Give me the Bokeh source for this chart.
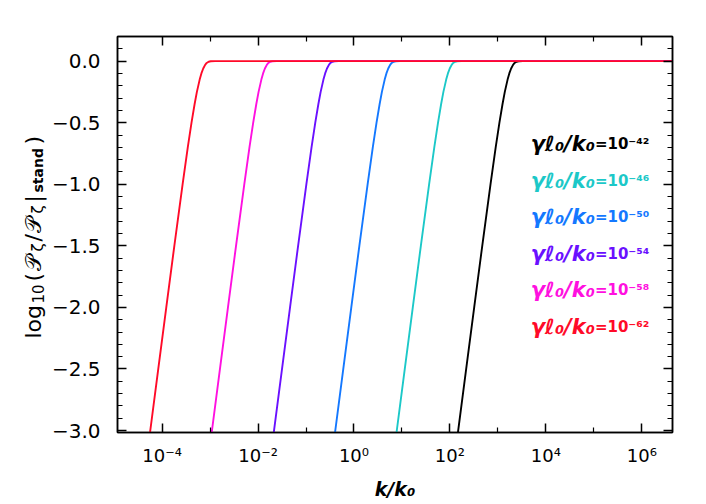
import math
from bokeh.plotting import figure
from bokeh.layouts import row
from bokeh.models import (Range1d, FixedTicker, CustomJSTickFormatter, LinearAxis,
                          LogAxis, Label)
from bokeh.embed import file_html
from bokeh.resources import INLINE

# ---------------- data ----------------
# log10(P/P_stand) levels along each curve
y_levels = [-3.1, -2.5, -2.0, -1.5, -1.0, -0.7, -0.5, -0.35, -0.25, -0.15,
            -0.1, -0.06, -0.03, -0.015, -0.005, -0.001, 0.0, 0.0]
# log10(k/k0) at which each curve reaches those levels
logk_black = [2.139, 2.339, 2.506, 2.674, 2.846, 2.954, 3.032, 3.096, 3.144, 3.202,
              3.238, 3.276, 3.316, 3.348, 3.389, 3.433, 3.522, 6.7]
logk_cyan = [0.859, 1.059, 1.226, 1.394, 1.566, 1.674, 1.752, 1.816, 1.864, 1.922,
             1.958, 1.996, 2.036, 2.068, 2.109, 2.153, 2.242, 6.7]
logk_blue = [-0.423, -0.223, -0.056, 0.112, 0.284, 0.392, 0.470, 0.534, 0.582, 0.640,
             0.676, 0.714, 0.754, 0.786, 0.827, 0.871, 0.960, 6.7]
logk_purple = [-1.700, -1.500, -1.333, -1.165, -0.993, -0.885, -0.807, -0.743, -0.695, -0.637,
               -0.601, -0.563, -0.523, -0.491, -0.450, -0.406, -0.317, 6.7]
logk_magenta = [-2.994, -2.794, -2.627, -2.459, -2.287, -2.179, -2.101, -2.037, -1.989, -1.931,
                -1.895, -1.857, -1.817, -1.785, -1.744, -1.700, -1.611, 6.7]
logk_red = [-4.280, -4.080, -3.913, -3.745, -3.573, -3.465, -3.387, -3.323, -3.275, -3.217,
            -3.181, -3.143, -3.103, -3.071, -3.030, -2.986, -2.897, 6.7]

series_names = ["black", "cyan", "blue", "purple", "magenta", "red"]
series_logk = [logk_black, logk_cyan, logk_blue, logk_purple, logk_magenta, logk_red]
gamma_exponents = ["-42", "-46", "-50", "-54", "-58", "-62"]

x_major_ticks = [1e-4, 1e-2, 1e0, 1e2, 1e4, 1e6]
x_minor_ticks = [1e-5, 1e-3, 1e-1, 1e1, 1e3, 1e5, 1e7]
y_major_ticks = [0.0, -0.5, -1.0, -1.5, -2.0, -2.5, -3.0]
y_minor_ticks = [0.2, 0.1, -0.1, -0.2, -0.3, -0.4, -0.6, -0.7, -0.8, -0.9, -1.1, -1.2, -1.3,
                 -1.4, -1.6, -1.7, -1.8, -1.9, -2.1, -2.2, -2.3, -2.4, -2.6, -2.7, -2.8, -2.9]

# ---------------- layout / styles ----------------
colors = {"black": "#000000", "cyan": "#1cc8c8", "blue": "#1478ff",
          "purple": "#6a10ff", "magenta": "#ff10e0", "red": "#ff0a28"}
FONT = "DejaVu Sans"
LOGX_MIN, LOGX_MAX = -4.93, 6.64
Y_MIN, Y_MAX = -3.016, 0.2
FRAME_L, FRAME_T, FRAME_W, FRAME_H = 114, 36, 558, 396
H = 504
LEFT_W = 48                      # narrow panel holding the rotated y-axis title
MAIN_W = 650
BOTTOM = H - FRAME_T - FRAME_H

y_range = Range1d(Y_MIN, Y_MAX)

p = figure(width=MAIN_W, height=H, x_axis_type="log",
           x_range=Range1d(10 ** LOGX_MIN, 10 ** LOGX_MAX), y_range=y_range,
           output_backend="svg", toolbar_location=None,
           min_border_left=FRAME_L - LEFT_W, min_border_right=LEFT_W + MAIN_W - FRAME_L - FRAME_W,
           min_border_top=FRAME_T, min_border_bottom=BOTTOM)
p.outline_line_color = "black"
p.outline_line_width = 1.5
p.xgrid.visible = False
p.ygrid.visible = False
p.background_fill_color = "white"
p.border_fill_color = "white"

for name, lk in zip(series_names, series_logk):
    p.line([10 ** v for v in lk], y_levels, line_color=colors[name], line_width=1.9)

xt = FixedTicker(ticks=x_major_ticks, minor_ticks=x_minor_ticks)
yt = FixedTicker(ticks=y_major_ticks, minor_ticks=y_minor_ticks)

sup_js = """
const m = {'-':'\u207b','0':'\u2070','1':'\u00b9','2':'\u00b2','3':'\u00b3','4':'\u2074',
           '5':'\u2075','6':'\u2076','7':'\u2077','8':'\u2078','9':'\u2079'};
const e = Math.round(Math.log10(tick)).toString();
let s = '';
for (const c of e) s += m[c];
return '10' + s;
"""
xfmt = CustomJSTickFormatter(code=sup_js)
yfmt = CustomJSTickFormatter(code="return (tick < -1e-9 ? '\u2212' : '') + Math.abs(tick).toFixed(1);")
blank = CustomJSTickFormatter(code="return '';")


def style_axis(ax):
    ax.major_tick_in = 9
    ax.major_tick_out = 0
    ax.minor_tick_in = 5
    ax.minor_tick_out = 0
    ax.axis_line_color = "black"
    ax.axis_line_width = 1.5
    ax.major_tick_line_width = 1.5
    ax.minor_tick_line_width = 1.2
    ax.major_label_text_font = FONT
    ax.major_label_text_color = "black"


bx = p.xaxis[0]
bx.ticker = xt
bx.formatter = xfmt
style_axis(bx)
bx.major_label_text_font_size = "18px"
bx.major_label_standoff = 12
bx.axis_label = "k/k\u2080"
bx.axis_label_text_font = FONT
bx.axis_label_text_font_style = "bold italic"
bx.axis_label_text_color = "black"
bx.axis_label_text_font_size = "19px"
bx.axis_label_standoff = 9

ly = p.yaxis[0]
ly.ticker = yt
ly.formatter = yfmt
style_axis(ly)
ly.major_label_text_font_size = "20px"
ly.major_label_standoff = 17

top = LogAxis(ticker=xt, formatter=blank)
style_axis(top)
p.add_layout(top, "above")
right = LinearAxis(ticker=yt, formatter=blank)
style_axis(right)
p.add_layout(right, "right")


def px_to_logx(px):
    return LOGX_MIN + (px - FRAME_L) * (LOGX_MAX - LOGX_MIN) / FRAME_W


def py_to_y(py):
    return Y_MAX - (py - FRAME_T) * (Y_MAX - Y_MIN) / FRAME_H


# legend texts
label_anchor_px = 594
label_y_px = [143, 180, 216, 253, 289, 326]
sup_map = {'-': '\u207b', '0': '\u2070', '1': '\u00b9', '2': '\u00b2', '3': '\u00b3',
           '4': '\u2074', '5': '\u2075', '6': '\u2076', '7': '\u2077', '8': '\u2078',
           '9': '\u2079'}
lx = 10 ** px_to_logx(label_anchor_px)
for name, ex, py in zip(series_names, gamma_exponents, label_y_px):
    yv = py_to_y(py)
    p.add_layout(Label(x=lx, y=yv, text="\u03b3\u2113\u2080/k\u2080",
                       text_font=FONT, text_font_size="21px", text_font_style="bold italic",
                       text_align="right", text_baseline="middle", text_color=colors[name]))
    p.add_layout(Label(x=lx, y=yv,
                       text="=10" + "".join(sup_map[c] for c in ex),
                       text_font=FONT, text_font_size="15px", text_font_style="bold",
                       text_align="left", text_baseline="middle", text_color=colors[name]))

# ---------------- narrow left panel with the rotated y-axis title ----------------
lp = figure(width=LEFT_W, height=H, x_range=Range1d(0, LEFT_W), y_range=y_range,
            output_backend="svg", toolbar_location=None,
            x_axis_location=None, y_axis_location=None,
            min_border_left=0, min_border_right=0,
            min_border_top=FRAME_T, min_border_bottom=BOTTOM)
lp.outline_line_color = None
lp.background_fill_color = "white"
lp.border_fill_color = "white"
lp.grid.visible = False

ylab_base_px = 33
ylab_pieces = [  # (text, size, baseline shift px, start page y, style)
    ("log", 22, 0, 338, "normal"),
    ("10", 15, 4, 303, "normal"),
    ("(", 22, 0, 281, "normal"),
    ("\U0001D4AB", 22, 0, 270, "normal"),
    ("\u03b6", 15, 4, 251, "normal"),
    ("/", 22, 0, 241, "normal"),
    ("\U0001D4AB", 22, 0, 232, "normal"),
    ("\u03b6", 15, 4, 213, "normal"),
    ("|", 22, 0, 202, "normal"),
    ("stand", 14, 4, 192, "bold"),
    (")", 22, 0, 144, "normal"),
]
for txt, size, shift, py, style in ylab_pieces:
    lp.add_layout(Label(x=ylab_base_px + shift, y=py_to_y(py),
                        text=txt, angle=math.pi / 2, text_font=FONT,
                        text_font_size=f"{size}px", text_font_style=style,
                        text_align="left", text_baseline="alphabetic",
                        text_color="black"))

layout = row(lp, p)
open("out.html", "w").write(file_html(layout, INLINE))
